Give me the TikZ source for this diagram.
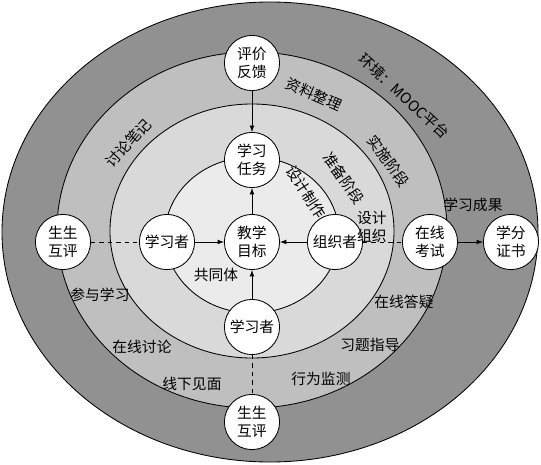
\documentclass[tikz,border=0pt]{standalone}
\usepackage{fontspec}
\setmainfont{Noto Sans CJK SC}
\begin{document}
\begin{tikzpicture}[font=\fontsize{10.5}{13}\selectfont, >=latex,
      ring/.style={draw, line width=0.6pt},
      circ/.style={circle, draw, line width=0.6pt, fill=white, minimum size=1.38cm, inner sep=0pt, align=center},
      lbl/.style={inner sep=0pt, align=center},
      link/.style={->, line width=0.6pt},
      dsh/.style={dashed, line width=0.6pt}]
    \useasboundingbox (-6.3,-5.575) rectangle (7.225,6.05);
    % rings, outside in
    \draw[ring, fill=black!43] (0.45,0.25) ellipse (6.7cm and 5.75cm);
    \draw[ring, fill=black!25] (0,0.3) ellipse (4.875cm and 4.45cm);
    \draw[ring, fill=black!15] (0,0.275) ellipse (3.55cm and 3.175cm);
    \draw[ring, fill=black!8] (0,0.175) ellipse (2.175cm and 1.95cm);
    % nodes
    \node[circ] (goal) at (0,0) {教学\\目标};
    \node[circ] (task) at (0,2.05) {学习\\任务};
    \node[circ] (fb) at (0,4.475) {评价\\反馈};
    \node[circ] (lrn) at (-2.125,0) {学习者};
    \node[circ] (org) at (2.075,0) {组织者};
    \node[circ] (lrnb) at (0,-2.125) {学习者};
    \node[circ] (peer) at (-4.725,0) {生生\\互评};
    \node[circ] (peerb) at (0,-4.5) {生生\\互评};
    \node[circ] (exam) at (4.45,0) {在线\\考试};
    \node[circ] (cert) at (6.475,0) {学分\\证书};
    % connectors
    \draw[link] (fb) -- (task);
    \draw[link] (goal) -- (task);
    \draw[link] (lrn) -- (goal);
    \draw[link] (org) -- (goal);
    \draw[link] (lrnb) -- (goal);
    \draw[link] (exam) -- (cert);
    \draw[dsh] (peer) -- (lrn);
    \draw[dsh] (org) -- (exam);
    \draw[dsh] (lrnb) -- (peerb);
    % ring labels
    \node[lbl, rotate=-43] (env) at (3.8,3.65) {环境：MOOC平台};
    \node[lbl, rotate=-24] (sort) at (1.55,3.7) {资料整理};
    \node[lbl, rotate=-54] (impl) at (3.42,2.02) {实施阶段};
    \node[lbl, rotate=-55] (prep) at (2.3,1.6) {准备阶段};
    \node[lbl, rotate=-57] (make) at (1.36,1.25) {设计制作};
    \node[lbl, rotate=47] (note) at (-3.1,2.475) {讨论笔记};
    \node[lbl] (dsg) at (3.0,0.38) {设计\\组织};
    \node[lbl] (res) at (5.525,0.925) {学习成果};
    \node[lbl] (comm) at (-0.9,-0.825) {共同体};
    \node[lbl] (join) at (-3.8,-1.325) {参与学习};
    \node[lbl] (disc) at (-2.75,-2.625) {在线讨论};
    \node[lbl] (meet) at (-1.5,-3.55) {线下见面};
    \node[lbl] (qa) at (3.8,-1.5) {在线答疑};
    \node[lbl] (exer) at (2.95,-2.575) {习题指导};
    \node[lbl] (mon) at (1.725,-3.425) {行为监测};
  \end{tikzpicture}
\end{document}
